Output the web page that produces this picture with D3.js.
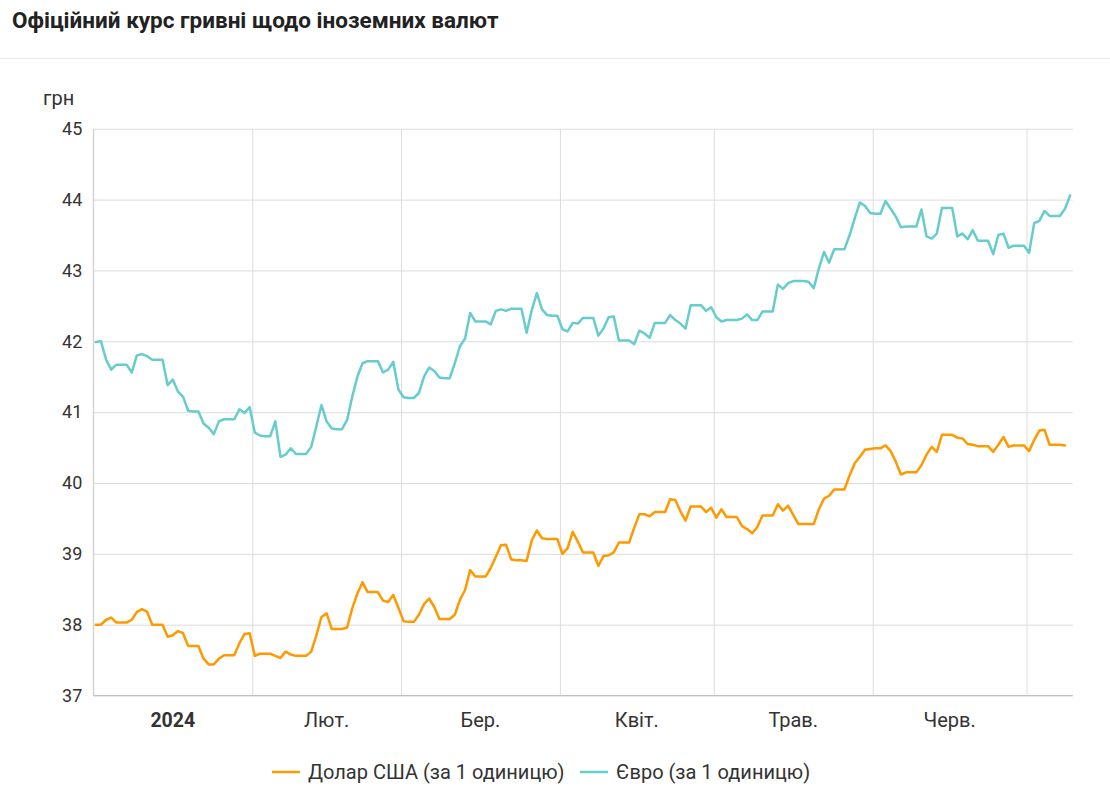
<!DOCTYPE html>
<html>
<head>
<meta charset="utf-8">
<script src="https://cdn.jsdelivr.net/npm/d3@7/dist/d3.min.js"></script>
<style>
  html, body { margin: 0; padding: 0; background: #fff; }
  svg { display: block; font-family: Roboto, "Noto Sans", sans-serif; }
</style>
</head>
<body>
<svg id="chart" width="1110" height="791"></svg>
<script>
// ---- DATA ----
const title = "Офіційний курс гривні щодо іноземних валют";
const unitLabel = "грн";
const startDate = "2024-01-01";
const seriesNames = ["Долар США (за 1 одиницю)", "Євро (за 1 одиницю)"];
const monthStarts = ["2024-01-01","2024-02-01","2024-03-01","2024-04-01","2024-05-01","2024-06-01","2024-07-01"];
const monthLabels = ["2024","Лют.","Бер.","Квіт.","Трав.","Черв.",""];
const yTicks = [37, 38, 39, 40, 41, 42, 43, 44, 45];

const usdValues = [
  38.00,38.00,38.07,38.10,38.03,38.03,38.03,38.07,38.18,38.22,38.18,38.00,38.00,38.00,37.83,37.85,37.91,37.88,37.70,37.70,37.70,37.52,37.44,37.44,37.52,37.57,37.57,37.57,37.74,37.87,37.88,
  37.56,37.59,37.59,37.59,37.56,37.53,37.62,37.58,37.56,37.56,37.56,37.62,37.85,38.11,38.16,37.94,37.94,37.94,37.96,38.23,38.44,38.60,38.46,38.46,38.46,38.34,38.32,38.42,38.24,
  38.05,38.04,38.04,38.14,38.29,38.37,38.25,38.08,38.08,38.08,38.14,38.35,38.49,38.77,38.68,38.68,38.68,38.80,38.96,39.12,39.13,38.92,38.91,38.91,38.90,39.19,39.33,39.22,39.21,39.21,39.21,
  39.00,39.08,39.31,39.17,39.02,39.02,39.02,38.83,38.97,38.98,39.02,39.16,39.16,39.16,39.37,39.56,39.56,39.53,39.59,39.59,39.59,39.77,39.76,39.60,39.47,39.67,39.67,39.67,39.59,39.65,
  39.51,39.63,39.52,39.52,39.52,39.39,39.35,39.29,39.38,39.54,39.54,39.54,39.70,39.61,39.68,39.55,39.42,39.42,39.42,39.42,39.63,39.78,39.82,39.91,39.91,39.91,40.11,40.28,40.37,40.47,40.48,
  40.49,40.49,40.53,40.45,40.30,40.12,40.15,40.15,40.15,40.25,40.40,40.51,40.44,40.68,40.68,40.68,40.64,40.63,40.55,40.54,40.52,40.52,40.52,40.44,40.54,40.65,40.51,40.53,40.53,40.53,
  40.45,40.61,40.74,40.75,40.54,40.54,40.54,40.53
];
const eurValues = [
  41.99,42.00,41.74,41.60,41.67,41.67,41.67,41.56,41.80,41.82,41.79,41.74,41.74,41.74,41.38,41.46,41.29,41.22,41.02,41.01,41.01,40.84,40.78,40.69,40.87,40.90,40.90,40.90,41.04,40.99,41.07,
  40.71,40.67,40.66,40.66,40.87,40.37,40.40,40.49,40.41,40.41,40.41,40.51,40.80,41.10,40.87,40.77,40.76,40.76,40.89,41.22,41.50,41.69,41.72,41.72,41.72,41.56,41.60,41.71,41.32,
  41.21,41.20,41.20,41.27,41.50,41.63,41.58,41.49,41.48,41.48,41.69,41.93,42.04,42.40,42.28,42.28,42.28,42.24,42.43,42.45,42.43,42.46,42.46,42.46,42.12,42.44,42.68,42.45,42.37,42.36,42.36,
  42.17,42.14,42.26,42.25,42.33,42.33,42.33,42.08,42.18,42.34,42.35,42.01,42.01,42.01,41.96,42.15,42.11,42.05,42.26,42.26,42.26,42.37,42.30,42.25,42.18,42.51,42.51,42.51,42.43,42.48,
  42.34,42.28,42.30,42.30,42.30,42.32,42.38,42.30,42.30,42.42,42.42,42.42,42.80,42.74,42.82,42.85,42.85,42.85,42.84,42.75,43.03,43.26,43.11,43.30,43.30,43.30,43.50,43.74,43.96,43.91,43.81,
  43.80,43.80,43.98,43.87,43.76,43.61,43.62,43.62,43.62,43.86,43.48,43.45,43.52,43.88,43.88,43.88,43.48,43.52,43.44,43.57,43.42,43.42,43.42,43.23,43.50,43.52,43.32,43.35,43.35,43.35,
  43.25,43.67,43.70,43.84,43.77,43.77,43.77,43.87,44.06
];
const seriesColors = ["#ff9900", "#66cccc"];

// ---- CHART ----
const svg = d3.select("#chart");
const W = 1110, H = 791;
const plot = { left: 93.3, right: 1072.7, top: 128.75, bottom: 695.55 };
const parse = d3.utcParse("%Y-%m-%d");
const t0 = parse(startDate);
const domainEnd = d3.utcDay.offset(t0, 191);

const x = d3.scaleUtc().domain([t0, domainEnd]).range([plot.left, plot.right]);
const y = d3.scaleLinear().domain([37, 45]).range([plot.bottom, plot.top]);

// points placed at midday of each date
const toPoints = vals => vals.map((v, i) => ({ t: d3.utcHour.offset(d3.utcDay.offset(t0, i), 12), v }));
const series = [toPoints(usdValues), toPoints(eurValues)];

svg.append("rect").attr("width", W).attr("height", H).attr("fill", "#fff");

// title
svg.append("text").attr("x", 12).attr("y", 28)
  .attr("font-size", 22.5).attr("font-weight", 700).attr("fill", "#222")
  .text(title);
svg.append("line").attr("x1", 0).attr("x2", W).attr("y1", 58.5).attr("y2", 58.5)
  .attr("stroke", "#ececec").attr("stroke-width", 1);

// horizontal grid + y labels
const yAxis = d3.axisLeft(y).tickValues(yTicks).tickSize(-(plot.right - plot.left)).tickPadding(10);
const gy = svg.append("g").attr("transform", `translate(${plot.left},0)`).call(yAxis);
gy.select(".domain").remove();
gy.selectAll(".tick line").attr("stroke", "#dcdcdc").attr("stroke-width", 1);
gy.selectAll(".tick text").attr("font-size", 18).attr("fill", "#333")
  .attr("font-family", "Roboto, sans-serif").attr("x", -11);

// vertical month grid
const months = monthStarts.map(parse);
const xAxis = d3.axisBottom(x).tickValues(months).tickSize(-(plot.bottom - plot.top)).tickFormat("");
const gx = svg.append("g").attr("transform", `translate(0,${plot.bottom})`).call(xAxis);
gx.select(".domain").remove();
gx.selectAll(".tick line").attr("stroke", "#dcdcdc").attr("stroke-width", 1);

// left axis line & bottom axis line
svg.append("line").attr("x1", plot.left).attr("x2", plot.left).attr("y1", plot.top).attr("y2", plot.bottom)
  .attr("stroke", "#cfcfcf");
svg.append("line").attr("x1", plot.left).attr("x2", plot.right).attr("y1", plot.bottom).attr("y2", plot.bottom)
  .attr("stroke", "#bdbdbd");

// month labels centered within each month
months.forEach((m, i) => {
  if (!monthLabels[i]) return;
  const next = d3.utcMonth.offset(m, 1);
  const cx = (x(m) + x(next)) / 2;
  svg.append("text").attr("x", cx).attr("y", 727).attr("text-anchor", "middle")
    .attr("font-size", i === 0 ? 19.5 : 20).attr("fill", "#333")
    .attr("font-weight", i === 0 ? 700 : 400)
    .text(monthLabels[i]);
});

// unit label
svg.append("text").attr("x", 43).attr("y", 105).attr("font-size", 20).attr("fill", "#333").text(unitLabel);

// lines
const line = d3.line().x(d => x(d.t)).y(d => y(d.v));
series.forEach((s, i) => {
  svg.append("path").datum(s).attr("d", line)
    .attr("fill", "none").attr("stroke", seriesColors[i])
    .attr("stroke-width", 2.5).attr("stroke-linejoin", "round").attr("stroke-linecap", "round");
});

// legend
const legendItems = [{ x: 272 }, { x: 580 }];
legendItems.forEach((it, i) => {
  const g = svg.append("g").attr("transform", `translate(${it.x},772)`);
  g.append("line").attr("x1", 0).attr("x2", 28).attr("y1", 0).attr("y2", 0)
    .attr("stroke", seriesColors[i]).attr("stroke-width", 2.5);
  g.append("text").attr("x", 36).attr("y", 7).attr("font-size", 20).attr("fill", "#333").text(seriesNames[i]);
});
</script>
</body>
</html>
